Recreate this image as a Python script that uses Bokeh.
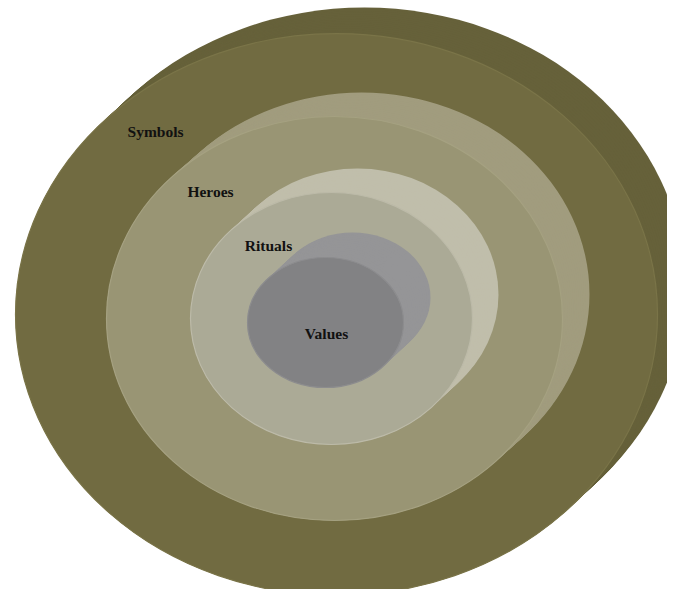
import numpy as np
from bokeh.plotting import figure
from bokeh.models import Range1d, ColumnDataSource
from bokeh.core.properties import value
from bokeh.embed import file_html
from bokeh.resources import INLINE

# Layers of the onion, outermost first (positions in picture pixels, y downward)
layers = ["Symbols", "Heroes", "Rituals", "Values"]
center_x = [336, 334, 331, 325]
center_y = [314, 318, 318, 322]
radius_x = [321, 228, 141, 78]
radius_y = [281, 202, 126, 65]
depth_dx = [28, 27, 26, 27]
depth_dy = [-26, -24, -24, -25]
front_colors = ["#716b41", "#999574", "#abaa96", "#828284"]
side_colors = ["#66613a", "#a19c7e", "#c0beab", "#959597"]
rim_colors = ["#7a7448", "#a5a181", "#bcbaa8", "#8c8c8e"]

label_x = [155, 210, 268, 326]
label_y = [131, 191, 245, 333]

W, H = 667, 589
IMG_H = 597

p = figure(width=W, height=H, output_backend="svg", toolbar_location=None,
           x_range=Range1d(0, W), y_range=Range1d(IMG_H - H, IMG_H),
           min_border=0)
p.axis.visible = False
p.grid.visible = False
p.outline_line_color = None
p.background_fill_color = "white"
p.border_fill_color = "white"

steps = np.linspace(1.0, 0.0, 16)
for i, name in enumerate(layers):
    xs = center_x[i] + steps * depth_dx[i]
    ys = IMG_H - (center_y[i] + steps * depth_dy[i])
    src = ColumnDataSource(dict(x=xs, y=ys))
    p.ellipse(x="x", y="y", width=2 * radius_x[i], height=2 * radius_y[i],
              source=src, fill_color=side_colors[i], line_color=None)
    p.ellipse(x=[center_x[i]], y=[IMG_H - center_y[i]],
              width=2 * radius_x[i], height=2 * radius_y[i],
              fill_color=front_colors[i], line_color=rim_colors[i], line_width=1.2)

lab = ColumnDataSource(dict(x=label_x, y=[IMG_H - v for v in label_y], t=layers))
p.text(x="x", y="y", text="t", source=lab, text_font=value("Liberation Serif"),
       text_font_style="bold", text_font_size="15.5px", text_color="#111111",
       text_align="center", text_baseline="middle")

open("out.html", "w").write(file_html(p, INLINE))
